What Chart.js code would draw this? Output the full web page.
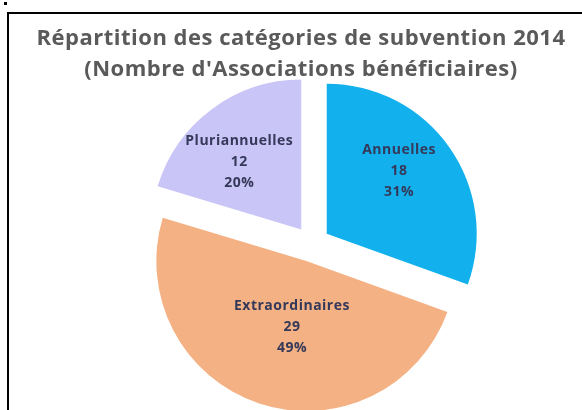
<!DOCTYPE html>
<html lang="fr">
<head>
  <meta charset="UTF-8" />
  <title>Répartition des catégories de subvention 2014</title>
  <script src="https://cdn.jsdelivr.net/npm/chart.js@4.4.0"></script>
  <style>
    body {
      margin: 0;
      width: 582px;
      height: 410px;
      background: #fff;
      position: relative;
      overflow: hidden;
    }
    .dot {
      position: absolute;
      left: 4px;
      top: 2px;
      width: 3px;
      height: 3px;
      background: #000;
    }
    .frame {
      position: absolute;
      left: 7px;
      top: 12px;
      width: 573px;
      height: 396px;
      border-left: 2px solid #000;
      border-top: 2px solid #000;
    }
    .title {
      position: absolute;
      left: 0;
      width: 602px;
      top: 21px;
      text-align: center;
      font-family: "Open Sans", sans-serif;
      font-weight: bold;
      font-size: 22px;
      letter-spacing: 0.5px;
      line-height: 31px;
      color: #5a5a5a;
      z-index: 2;
      white-space: nowrap;
    }
    canvas {
      display: block;
    }
  </style>
</head>
<body>
  <div class="dot"></div>
  <div class="frame">
    <canvas id="pieChart"></canvas>
  </div>
  <div class="title">Répartition des catégories de subvention 2014<br>(Nombre d'Associations bénéficiaires)</div>

  <script>
    const categories = ['Annuelles', 'Extraordinaires', 'Pluriannuelles'];
    const counts = [18, 29, 12];
    const colors = ['#12B1EE', '#F4B183', '#CAC5F7'];

    const total = counts.reduce((a, b) => a + b, 0);
    const percents = counts.map(v => Math.round(v / total * 100) + '%');

    // pull every slice out from the centre, like an exploded Excel pie
    const explode = 18;
    const explodePlugin = {
      id: 'explode',
      afterDatasetUpdate(chart, args) {
        args.meta.data.forEach(arc => {
          const mid = (arc.startAngle + arc.endAngle) / 2;
          arc.x += Math.cos(mid) * explode;
          arc.y += Math.sin(mid) * explode;
        });
      }
    };

    // label, value and percentage inside each slice
    const labelRatio = [0.64, 0.45, 0.61];
    const labelTurn = -6 * Math.PI / 180;
    const sliceLabels = {
      id: 'sliceLabels',
      afterDatasetsDraw(chart) {
        const ctx = chart.ctx;
        const arcs = chart.getDatasetMeta(0).data;
        ctx.save();
        ctx.fillStyle = '#34395a';
        ctx.font = 'bold 14px "Open Sans", sans-serif';
        ctx.letterSpacing = '0.5px';
        ctx.textAlign = 'center';
        ctx.textBaseline = 'middle';
        arcs.forEach((arc, i) => {
          const mid = (arc.startAngle + arc.endAngle) / 2 + labelTurn;
          const r = arc.outerRadius * labelRatio[i];
          const x = arc.x + Math.cos(mid) * r;
          const y = arc.y + Math.sin(mid) * r;
          ctx.fillText(categories[i], x, y - 21);
          ctx.fillText(String(counts[i]), x, y);
          ctx.fillText(percents[i], x, y + 21);
        });
        ctx.restore();
      }
    };

    const canvas = document.getElementById('pieChart');
    canvas.width = 573;
    canvas.height = 396;

    new Chart(canvas.getContext('2d'), {
      type: 'pie',
      data: {
        labels: categories,
        datasets: [{
          data: counts,
          backgroundColor: colors,
          borderWidth: 0
        }]
      },
      options: {
        responsive: false,
        animation: false,
        layout: {
          padding: { left: 153, right: 120, top: 80, bottom: 16 }
        },
        plugins: {
          legend: { display: false },
          tooltip: { enabled: false }
        }
      },
      plugins: [explodePlugin, sliceLabels]
    });
  </script>
</body>
</html>
